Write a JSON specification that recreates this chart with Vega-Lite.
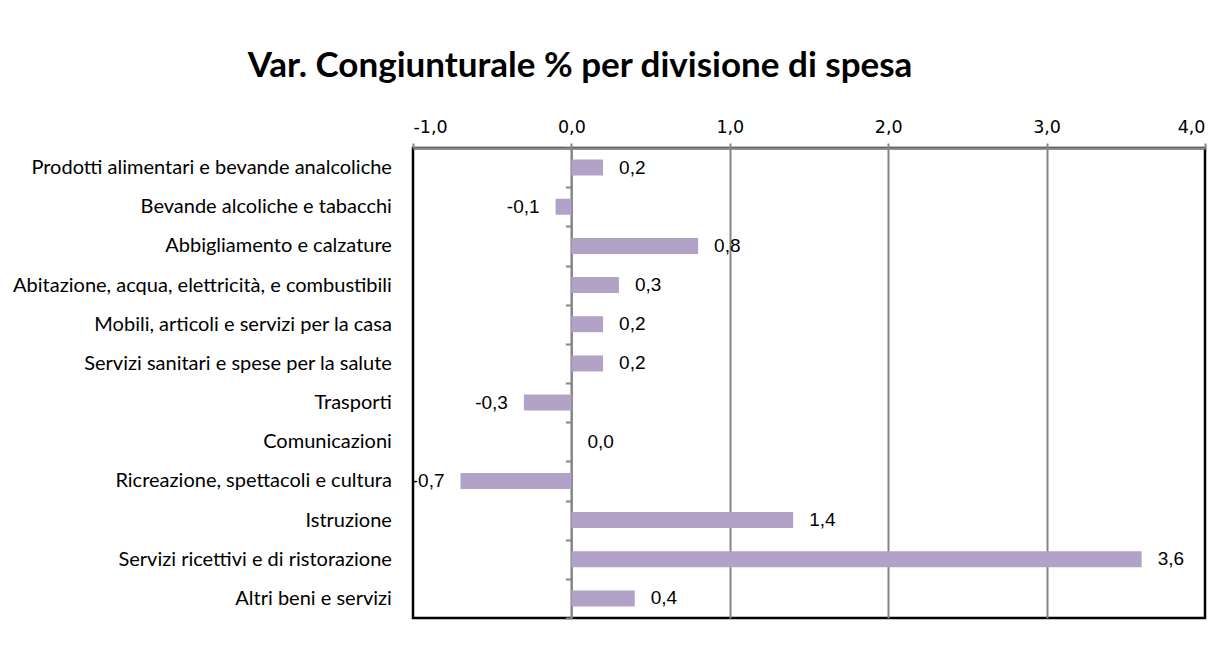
{
  "$schema": "https://vega.github.io/schema/vega-lite/v6.json",
  "width": 792,
  "height": 470,
  "autosize": {"type": "none"},
  "padding": {"left": 413, "top": 148, "right": 19, "bottom": 46},
  "background": "white",
  "title": {
    "text": "Var. Congiunturale % per divisione di spesa",
    "font": "Lato",
    "fontSize": 35,
    "fontWeight": "bold",
    "color": "black",
    "anchor": "middle",
    "frame": "group",
    "dx": -229,
    "offset": 34
  },
  "config": {
    "locale": {"number": {"decimal": ",", "thousands": ".", "grouping": [3], "currency": ["€", ""], "minus": "-"}},
    "view": {"stroke": "black", "strokeWidth": 2.5}
  },
  "data": {
    "values": [
      {"divisione": "Prodotti alimentari e bevande analcoliche", "var": 0.2},
      {"divisione": "Bevande alcoliche e tabacchi", "var": -0.1},
      {"divisione": "Abbigliamento e calzature", "var": 0.8},
      {"divisione": "Abitazione, acqua, elettricità, e combustibili", "var": 0.3},
      {"divisione": "Mobili, articoli e servizi per la casa", "var": 0.2},
      {"divisione": "Servizi sanitari e spese per la salute", "var": 0.2},
      {"divisione": "Trasporti", "var": -0.3},
      {"divisione": "Comunicazioni", "var": 0.0},
      {"divisione": "Ricreazione, spettacoli e cultura", "var": -0.7},
      {"divisione": "Istruzione", "var": 1.4},
      {"divisione": "Servizi ricettivi e di ristorazione", "var": 3.6},
      {"divisione": "Altri beni e servizi", "var": 0.4}
    ]
  },
  "encoding": {
    "y": {
      "field": "divisione",
      "type": "nominal",
      "sort": null,
      "scale": {"paddingInner": 0, "paddingOuter": 0},
      "axis": {
        "title": null,
        "orient": "left",
        "offset": -158.4,
        "domain": true,
        "domainColor": "#868686",
        "domainWidth": 2,
        "ticks": true,
        "tickBand": "extent",
        "tickColor": "#868686",
        "tickWidth": 2,
        "tickSize": 6,
        "labelPadding": 174,
        "labelFont": "Lato",
        "labelFontSize": 20,
        "labelColor": "black",
        "labelLimit": 600,
        "grid": false
      }
    },
    "x": {
      "field": "var",
      "type": "quantitative",
      "scale": {"domain": [-1, 4], "nice": false, "zero": false},
      "axis": {
        "title": null,
        "orient": "top",
        "values": [-1, 0, 1, 2, 3, 4],
        "format": ".1f",
        "labelFont": "DejaVu Sans",
        "labelFontSize": 17.5,
        "labelColor": "black",
        "labelPadding": 7,
        "domainColor": "#868686",
        "domainWidth": 2.5,
        "tickColor": "#868686",
        "tickWidth": 2,
        "tickSize": 5,
        "grid": true,
        "gridColor": "#868686",
        "gridWidth": 2,
        "gridOpacity": {"condition": {"test": "datum.value == -1 || datum.value == 4", "value": 0}, "value": 1}
      }
    }
  },
  "layer": [
    {
      "mark": {"type": "bar", "color": "#B3A2C7", "size": 16},
      "encoding": {"x": {"field": "var", "type": "quantitative"}, "x2": {"datum": 0}}
    },
    {
      "transform": [{"filter": "datum.var >= 0"}],
      "mark": {"type": "text", "align": "left", "baseline": "middle", "dx": 16, "font": "Liberation Sans", "fontSize": 19, "color": "black"},
      "encoding": {"text": {"field": "var", "type": "quantitative", "format": ".1f"}}
    },
    {
      "transform": [{"filter": "datum.var < 0"}],
      "mark": {"type": "text", "align": "right", "baseline": "middle", "dx": -16, "font": "Liberation Sans", "fontSize": 19, "color": "black"},
      "encoding": {"text": {"field": "var", "type": "quantitative", "format": ".1f"}}
    }
  ]
}
